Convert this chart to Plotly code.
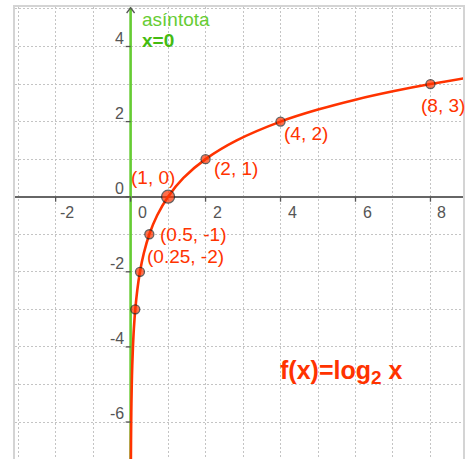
import plotly.graph_objects as go

# ---- data ----
pts_x = [0.125, 0.25, 0.5, 1, 2, 4, 8]
pts_y = [-3, -2, -1, 0, 1, 2, 3]
pt_labels = ["", "(0.25, -2)", "(0.5, -1)", "(1, 0)", "(2, 1)", "(4, 2)", "(8, 3)"]

curve_x = [0.0078, 0.011, 0.0156, 0.022, 0.031, 0.044, 0.0625, 0.088, 0.125, 0.177, 0.25,
           0.354, 0.5, 0.707, 1, 1.41, 2, 2.83, 4, 5, 6, 7, 8, 9]
curve_y = [-7, -6.5, -6, -5.5, -5, -4.5, -4, -3.5, -3, -2.5, -2,
           -1.5, -1, -0.5, 0, 0.5, 1, 1.5, 2, 2.32, 2.585, 2.807, 3, 3.17]

xticks = [-2, 0, 2, 4, 6, 8]
yticks = [-6, -4, -2, 0, 2, 4]

xr = [-3.084, 8.868]
yr = [-6.985, 5.052]

RED = "#ff3300"
GREEN = "#66cc33"

fig = go.Figure()

# asymptote x = 0
fig.add_trace(go.Scatter(x=[0, 0], y=[yr[0] - 1, 5.03], mode="lines",
                         line=dict(color=GREEN, width=2.6), hoverinfo="skip"))
# curve
fig.add_trace(go.Scatter(x=curve_x, y=curve_y, mode="lines", line_shape="spline",
                         line=dict(color=RED, width=2.6), hoverinfo="skip"))
# points
sizes = [9 if x != 1 else 13 for x in pts_x]
fig.add_trace(go.Scatter(x=pts_x, y=pts_y, mode="markers",
                         marker=dict(color=RED, size=sizes, line=dict(color="#222222", width=1.3)),
                         hoverinfo="skip"))

shapes = []
# ticks
for t in xticks:
    shapes.append(dict(type="line", xref="x", yref="y", x0=t, x1=t, y0=0, y1=-5 / 37.55,
                       line=dict(color="#555555", width=1.3)))
for t in yticks:
    shapes.append(dict(type="line", xref="x", yref="y", x0=-5 / 37.65, x1=0, y0=t, y1=t,
                       line=dict(color="#555555", width=1.3)))
# y-axis arrow
shapes.append(dict(type="path", xref="x", yref="y",
                   path=f"M {-4/37.65},{yr[1]-6/37.55} L 0,{yr[1]-0.02} L {4/37.65},{yr[1]-6/37.55}",
                   line=dict(color="#555555", width=1.3)))

annotations = []
for t in xticks:
    annotations.append(dict(x=t, y=0, xref="x", yref="y", text=str(t), showarrow=False,
                            xshift=11.5, yshift=-16, font=dict(size=16, color="#555555")))
for t in yticks:
    annotations.append(dict(x=0, y=t, xref="x", yref="y", text=str(t), showarrow=False,
                            xanchor="right", xshift=-5, yshift=8.5,
                            font=dict(size=16, color="#555555")))

# point labels offsets (pixels)
offs = {
    "(0.25, -2)": (5, 15),
    "(0.5, -1)": (9, 0),
    "(1, 0)": (-39, 19),
    "(2, 1)": (6, -9),
    "(4, 2)": (1, -12),
    "(8, 3)": (-11, -21),
}
for x, y, lab in zip(pts_x, pts_y, pt_labels):
    if not lab:
        continue
    dx, dy = offs[lab]
    annotations.append(dict(x=x, y=y, xref="x", yref="y", text=lab, showarrow=False,
                            xanchor="left", xshift=dx, yshift=dy,
                            font=dict(size=19, color=RED)))

annotations.append(dict(x=0, y=4, xref="x", yref="y", text="asíntota", showarrow=False,
                        xanchor="left", xshift=9, yshift=27, font=dict(size=19, color=GREEN)))
annotations.append(dict(x=0, y=4, xref="x", yref="y", text="<b>x=0</b>", showarrow=False,
                        xanchor="left", xshift=9, yshift=6.5, font=dict(size=19, color="#44bb11")))
annotations.append(dict(x=4, y=-4.67, xref="x", yref="y",
                        text="<b>f(x)=log<sub><span style='font-size:19px'>2</span></sub> x</b>",
                        showarrow=False, xanchor="left", xshift=-3,
                        font=dict(size=25, color=RED)))

fig.update_layout(
    width=465, height=459,
    margin=dict(l=15, r=0, t=7, b=0),
    paper_bgcolor="white", plot_bgcolor="white",
    showlegend=False,
    font=dict(family="Liberation Sans, Arial, sans-serif"),
    shapes=shapes, annotations=annotations,
    xaxis=dict(range=xr, dtick=1, tick0=0, showticklabels=False, ticks="",
               showgrid=True, gridcolor="#c4c4c4", griddash="2px,2px", gridwidth=1,
               zeroline=False, showline=True, mirror=True, linecolor="#d4d4d4", linewidth=1.5,
               fixedrange=True),
    yaxis=dict(range=yr, dtick=1, tick0=0, showticklabels=False, ticks="",
               showgrid=True, gridcolor="#c4c4c4", griddash="2px,2px", gridwidth=1,
               zeroline=True, zerolinecolor="#666666", zerolinewidth=1.5,
               showline=True, mirror=True, linecolor="#d4d4d4", linewidth=1.5,
               fixedrange=True),
)

fig.write_html("out.html", config={"displayModeBar": False},
               post_script="document.body.style.margin='0';")
